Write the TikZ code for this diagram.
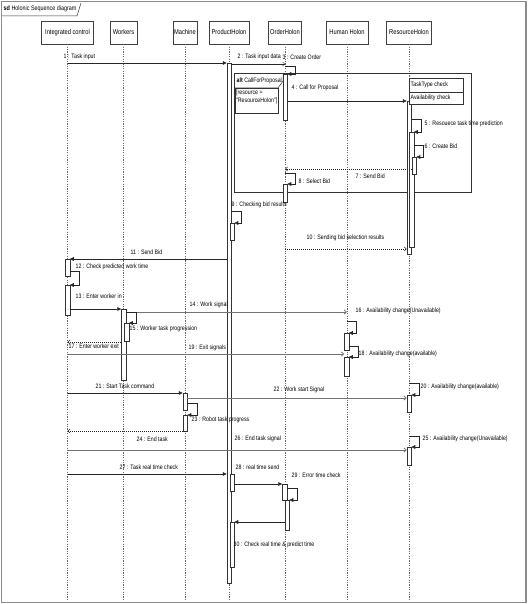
\documentclass[tikz,border=0pt]{standalone}
\usepackage{fontspec}
\setmainfont{Liberation Sans}[FakeStretch=0.82]
\usetikzlibrary{arrows.meta}
\newcommand\lblsize{\fontsize{6.4}{7.4}\selectfont}
\newcommand\actbar[4]{\node[act, anchor=north, minimum height={#4pt-#3pt}] (#1) at (#2,#3) {};}
\begin{document}
\begin{tikzpicture}[x=1pt,y=-1pt,
  head/.style={draw=black!75, fill=white, line width=0.6pt, minimum height=23pt, inner sep=1pt, font=\fontsize{7}{8}\selectfont},
  life/.style={draw=black!60, line width=0.45pt, dash pattern=on 1.2pt off 1.2pt},
  act/.style={draw=black!80, fill=white, line width=0.5pt, minimum width=4.5pt, inner sep=0pt, outer sep=0pt},
  msg/.style={line width=0.6pt, draw=black!85},
  sync/.style={msg, -{Triangle[length=4pt,width=3.6pt]}},
  async/.style={msg, -{Straight Barb[length=2.2pt,width=4pt]}},
  sig/.style={async, draw=black!55, line width=0.8pt},
  ret/.style={async, dash pattern=on 1pt off 1pt, line width=0.55pt},
  lbl/.style={font=\lblsize, inner sep=0.5pt, anchor=west},
  boxed/.style={draw=black!80, fill=white, line width=0.5pt}
]
\useasboundingbox (0,0) rectangle (528,604);
\fill[white] (0,0) rectangle (528,604);
% outer sd frame
\draw[black!45, line width=1.2pt] (1.5,1.5) rectangle (526,602.5);
\draw[black!80, line width=0.5pt] (2,16) -- (77,16) -- (81,3);
\node[lbl, font=\fontsize{6.6}{8}\selectfont] (title) at (3,9) {\textbf{sd} Holonic Sequence diagram};

% lifeline heads
\node[head, minimum width=52pt] (IC) at (67.5,32.5) {Integrated control};
\node[head, minimum width=27pt] (W) at (123.5,32.5) {Workers};
\node[head, minimum width=24pt] (M) at (185,32.5) {Machine};
\node[head, minimum width=40pt] (PH) at (229,32.5) {ProductHolon};
\node[head, minimum width=33pt] (OH) at (285,32.5) {OrderHolon};
\node[head, minimum width=42pt] (HH) at (347,32.5) {Human Holon};
\node[head, minimum width=45pt] (RH) at (409,32.5) {ResourceHolon};

% lifelines
\foreach \n in {IC,W,M,PH,OH,HH,RH}
  \draw[life] (\n.south) -- (\n.south |- 0,600);

% alt frame
\draw[black!80, line width=0.6pt] (234,73) rectangle (471,192);
\draw[black!80, line width=0.5pt] (234,88) -- (278,88) -- (283,81) -- (283,73);
\node[lbl] (altl) at (236,80.5) {\textbf{alt} CallForProposal};
\draw[boxed] (235,88) rectangle (278,113);
\node[lbl, align=left, anchor=north west, font=\fontsize{6.4}{8.5}\selectfont] (guard) at (235.5,89) {[resource =\\"ResourceHolon"]};

% activation bars
\actbar{PH0}{229}{63}{583}
\actbar{PH1}{232}{223}{240}
\actbar{PH2}{232}{474}{491}
\actbar{PH3}{232}{522}{567}
\actbar{OH1}{285}{74}{120}
\actbar{OH2}{285}{184}{202}
\actbar{OH3}{284.5}{484}{500}
\actbar{OH4}{287}{500}{530}
\actbar{RH0}{409}{101}{254}
\actbar{RH1}{411.5}{132}{247}
\actbar{RH2}{414}{157}{174}
\actbar{RH3}{409}{395}{412}
\actbar{RH4}{409}{447}{465}
\actbar{IC1}{67.5}{259}{276}
\actbar{IC2}{67.5}{285}{315}
\actbar{W1}{123.5}{309}{380}
\actbar{W2}{126.5}{323}{341}
\actbar{HH1}{346.5}{333}{350}
\actbar{HH2}{346.5}{357}{376}
\actbar{M1}{185}{393}{410}
\actbar{M2}{185}{415}{431}

% state boxes on ResourceHolon
\draw[boxed] (409,78) rectangle (463,92);
\draw[boxed] (409,92) rectangle (463,104);
\node[lbl] (tt) at (410,85) {TaskType check};
\node[lbl] (av) at (410,98) {Availability check};

% messages
\draw[sync] (IC |- 0,63) -- (PH0.west |- 0,63);
\node[lbl] (l1) at (63,57) {1 : Task input};
\draw[async, line width=0.4pt] (PH0.east |- 0,64) -- (OH |- 0,64);
\node[lbl] (l2) at (237,57) {2 : Task input data};
\draw[sync] (OH |- 0,66) -| (295,74) -- (OH1.east |- 0,74);
\node[lbl] (l3) at (282,57) {3 : Create Order};
\draw[sync] (OH1.east |- 0,101) -- (RH0.west |- 0,101);
\node[lbl] (l4) at (291,88) {4 : Call for Proposal};
\draw[sync] (RH0.east |- 0,119) -| (421,132) -- (RH1.east |- 0,132);
\node[lbl] (l5) at (424,124) {5 : Resouece task time prediction};
\draw[sync] (RH1.east |- 0,145) -| (423,157) -- (RH2.east |- 0,157);
\node[lbl] (l6) at (424,146) {6 : Create Bid};
\draw[ret] (RH2.west |- 0,169) -- (OH |- 0,169);
\node[lbl] (l7) at (355,176) {7 : Send Bid};
\draw[sync] (OH |- 0,173) -| (295,184) -- (OH2.east |- 0,184);
\node[lbl] (l8) at (298,181) {8 : Select Bid};
\draw[sync] (PH0.east |- 0,211) -| (241,223) -- (PH1.east |- 0,223);
\node[lbl] (l9) at (231,205) {9 : Checking bid results};
\draw[ret] (OH |- 0,249) -- (RH0.west |- 0,249);
\node[lbl] (l10) at (306,238) {10 : Sending bid selection results};
\draw[sync] (PH0.west |- 0,259) -- (IC1.east |- 0,259);
\node[lbl] (l11) at (130,252) {11 : Send Bid};
\draw[sync] (IC1.east |- 0,271) -| (79,285) -- (IC2.east |- 0,285);
\node[lbl] (l12) at (75,267) {12 : Check predicted work time};
\draw[sync] (IC2.east |- 0,309) -- (W1.west |- 0,309);
\node[lbl] (l13) at (75,296) {13 : Enter worker in};
\draw[sig] (W1.east |- 0,312) -- (HH |- 0,312);
\node[lbl] (l14) at (189,305) {14 : Work signal};
\draw[sync] (W1.east |- 0,312) -| (136,323) -- (W2.east |- 0,323);
\node[lbl] (l15) at (129,329) {15 : Worker task progression};
\draw[sync] (HH |- 0,321) -| (356,333) -- (HH1.east |- 0,333);
\node[lbl] (l16) at (355,311) {16 : Availability change(Unavailable)};
\draw[ret] (W1.west |- 0,342) -- (IC |- 0,342);
\node[lbl] (l17) at (68,346) {17 : Enter worker exit};
\draw[sync] (HH1.east |- 0,346) -| (358,357) -- (HH2.east |- 0,357);
\node[lbl] (l18) at (358,354) {18 : Availability change(available)};
\draw[sig] (IC |- 0,354) -- (HH2.west |- 0,354);
\node[lbl] (l19) at (188,348) {19 : Exit signals};
\draw[sync] (RH |- 0,383) -| (419,395) -- (RH3.east |- 0,395);
\node[lbl] (l20) at (420,387) {20 : Availability change(available)};
\draw[sync] (IC |- 0,393) -- (M1.west |- 0,393);
\node[lbl] (l21) at (95,386) {21 : Start Task command};
\draw[sig] (M1.east |- 0,398) -- (RH3.west |- 0,398);
\node[lbl] (l22) at (273,390) {22 : Work start Signal};
\draw[sync] (M1.east |- 0,403) -| (197,415) -- (M2.east |- 0,415);
\node[lbl] (l23) at (191,420) {23 : Robot task progress};
\draw[ret] (M2.west |- 0,431) -- (IC |- 0,431);
\node[lbl] (l24) at (136,439) {24 : End task};
\draw[sync] (RH |- 0,436) -| (419,447) -- (RH4.east |- 0,447);
\node[lbl] (l25) at (422,439) {25 : Availability change(Unavailable)};
\draw[sig] (IC |- 0,450) -- (RH4.west |- 0,450);
\node[lbl] (l26) at (234,439) {26 : End task signal};
\draw[sync] (IC |- 0,474) -- (PH0.west |- 0,474);
\node[lbl] (l27) at (119,467) {27 : Task real time check};
\draw[sync] (PH2.east |- 0,484) -- (OH3.west |- 0,484);
\node[lbl] (l28) at (235,467) {28 : real time send};
\draw[sync] (OH3.east |- 0,488) -| (297,500) -- (OH4.east |- 0,500);
\node[lbl] (l29) at (291,475) {29 : Error time check};
\draw[sync] (OH4.west |- 0,522) -- (PH3.east |- 0,522);
\node[lbl] (l30) at (233,545) {30 : Check real time \& predict time};
\end{tikzpicture}
\end{document}
